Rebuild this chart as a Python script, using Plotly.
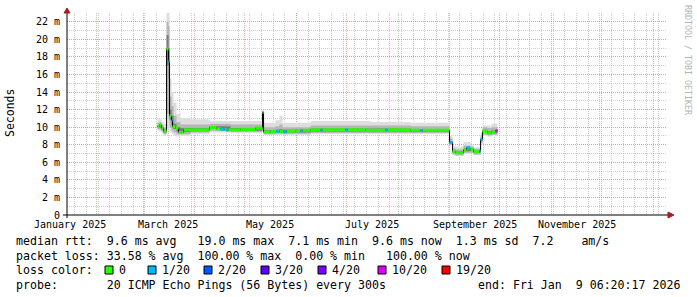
import plotly.graph_objects as go

# ---------------- data ----------------
med_dates = ['2025-03-09 14:00', '2025-03-10 19:00', '2025-03-12 00:00', '2025-03-13 05:00',
             '2025-03-15 00:00', '2025-03-16 05:00', '2025-03-16 19:00', '2025-03-18 00:00',
             '2025-03-18 14:00', '2025-03-20 10:00', '2025-03-22 05:00', '2025-03-25 05:00',
             '2025-04-09 19:00', '2025-04-14 00:00', '2025-04-16 10:00', '2025-04-18 19:00',
             '2025-04-20 00:00', '2025-04-21 05:00', '2025-04-28 10:00', '2025-05-07 10:00',
             '2025-05-11 14:00', '2025-05-12 05:00', '2025-05-16 10:00', '2025-05-20 00:00',
             '2025-05-21 19:00', '2025-05-24 05:00', '2025-05-26 00:00', '2025-05-31 10:00',
             '2025-06-03 10:00', '2025-06-04 14:00', '2025-06-09 10:00', '2025-06-15 10:00',
             '2025-06-16 14:00', '2025-06-30 10:00', '2025-07-01 14:00', '2025-07-12 10:00',
             '2025-07-24 10:00', '2025-07-25 14:00', '2025-08-08 10:00', '2025-08-14 10:00',
             '2025-08-15 14:00', '2025-08-31 19:00', '2025-09-02 14:00', '2025-09-04 10:00',
             '2025-09-09 05:00', '2025-09-11 00:00', '2025-09-12 19:00', '2025-09-13 10:00',
             '2025-09-15 05:00', '2025-09-18 19:00', '2025-09-19 10:00', '2025-09-20 14:00',
             '2025-09-23 14:00', '2025-09-26 00:00', '2025-09-28 10:00']
med_rtt = [10.1, 10.25, 9.9, 9.55,
           18.9, 17.5, 11.3, 10.8,
           10.05, 9.9, 9.4, 9.7,
           9.95, 9.8, 9.75, 9.7,
           9.65, 9.7, 9.75, 9.9,
           11.7, 9.45, 9.5, 9.55,
           9.5, 9.45, 9.55, 9.6,
           9.6, 9.65, 9.7, 9.65,
           9.7, 9.7, 9.7, 9.65,
           9.7, 9.7, 9.65, 9.6,
           9.65, 8.25, 7.25, 7.1,
           7.4, 7.65, 7.6, 7.45,
           7.2, 7.3, 8.6, 9.5,
           9.35, 9.45, 9.6]
med_loss = [0, 0, 0, 0,
            0, 1, 0, 1,
            0, 0, 0, 0,
            0, 0, 1, 0,
            1, 0, 0, 0,
            0, 0, 0, 1,
            0, 1, 0, 0,
            1, 0, 0, 1,
            0, 1, 0, 0,
            1, 0, 0, 1,
            0, 1, 0, 0,
            0, 1, 0, 0,
            0, 1, 1, 0,
            0, 0, 5]
data_end = '2025-09-29 14:00'

smoke_dates = ['2025-03-09 14:00', '2025-03-10 19:00', '2025-03-12 00:00', '2025-03-13 05:00',
               '2025-03-15 00:00', '2025-03-16 05:00', '2025-03-16 19:00', '2025-03-18 00:00',
               '2025-03-19 05:00', '2025-03-21 00:00', '2025-03-23 10:00', '2025-03-29 10:00',
               '2025-04-09 19:00', '2025-04-22 10:00', '2025-05-11 14:00', '2025-05-12 05:00',
               '2025-05-19 10:00', '2025-05-21 19:00', '2025-05-23 14:00', '2025-06-09 10:00',
               '2025-07-15 10:00', '2025-08-08 10:00', '2025-08-31 19:00', '2025-09-02 14:00',
               '2025-09-04 10:00', '2025-09-09 05:00', '2025-09-13 10:00', '2025-09-15 05:00',
               '2025-09-19 10:00', '2025-09-20 14:00', '2025-09-23 14:00', '2025-09-26 00:00']
smoke_lo_out = [9.6, 9.5, 9.3, 9.0, 9.8, 9.8, 9.4, 9.2, 9.0, 8.9, 9.0, 9.2, 9.4, 9.3, 9.6, 9.1,
                9.1, 9.1, 9.1, 9.2, 9.2, 9.2, 7.9, 6.8, 6.7, 7.0, 7.0, 6.8, 8.0, 9.0, 8.9, 9.0]
smoke_lo_mid = [9.8, 9.7, 9.5, 9.2, 11.5, 11.0, 9.9, 9.6, 9.4, 9.2, 9.2, 9.4, 9.6, 9.45, 10.0, 9.2,
                9.25, 9.25, 9.25, 9.35, 9.35, 9.35, 8.0, 6.9, 6.8, 7.1, 7.1, 6.9, 8.2, 9.15, 9.05, 9.15]
smoke_lo_in = [9.95, 9.95, 9.7, 9.35, 17.0, 15.5, 10.8, 10.2, 9.8, 9.5, 9.45, 9.55, 9.8, 9.6, 10.5, 9.35,
               9.4, 9.4, 9.4, 9.5, 9.5, 9.45, 8.1, 7.05, 6.95, 7.25, 7.3, 7.05, 8.4, 9.35, 9.2, 9.3]
smoke_hi_in = [10.2, 10.35, 10.0, 9.7, 20.5, 19.0, 12.0, 11.3, 10.4, 10.0, 9.9, 9.9, 10.1, 9.9, 11.6, 9.65,
               9.7, 9.75, 9.7, 9.85, 9.85, 9.8, 8.4, 7.35, 7.25, 7.6, 7.6, 7.35, 8.8, 9.7, 9.55, 9.65]
smoke_hi_mid = [10.5, 10.6, 10.3, 10.0, 22.0, 21.5, 13.5, 12.4, 11.3, 10.6, 10.3, 10.3, 10.4, 10.3, 11.8, 10.0,
                10.1, 10.3, 10.0, 10.2, 10.2, 10.1, 8.7, 7.6, 7.5, 7.9, 7.8, 7.55, 9.1, 10.0, 9.9, 10.0]
smoke_hi_out = [10.9, 10.9, 10.6, 10.4, 23.0, 23.0, 15.5, 14.0, 12.8, 11.5, 11.0, 10.9, 10.7, 10.7, 12.0, 10.5,
                10.8, 11.3, 10.5, 10.7, 10.6, 10.5, 9.0, 7.9, 7.8, 8.3, 8.0, 7.7, 9.4, 10.2, 10.2, 10.4]

loss_labels = ['0', '1/20', '2/20', '3/20', '4/20', '10/20', '19/20']
loss_colors = ['#26ff00', '#00b8ff', '#0059ff', '#5e00ff', '#7e00ff', '#dd00ff', '#ff0000']

x_start = '2025-01-14 06:20:17'
x_end = '2026-01-09 06:20:17'
month_ticks = ['2025-02-01', '2025-03-01', '2025-04-01', '2025-05-01', '2025-06-01', '2025-07-01',
               '2025-08-01', '2025-09-01', '2025-10-01', '2025-11-01', '2025-12-01', '2026-01-01']
month_label_pos = ['2025-01-16', '2025-03-16', '2025-05-16', '2025-07-16', '2025-09-16', '2025-11-16']
month_labels = ['January 2025', 'March 2025', 'May 2025', 'July 2025', 'September 2025', 'November 2025']
y_ticks = [0, 2, 4, 6, 8, 10, 12, 14, 16, 18, 20, 22]
y_labels = ['0', '2 m', '4 m', '6 m', '8 m', '10 m', '12 m', '14 m', '16 m', '18 m', '20 m', '22 m']

legend_rtt = 'median rtt:  9.6 ms avg   19.0 ms max  7.1 ms min  9.6 ms now  1.3 ms sd  7.2    am/s'
legend_loss = 'packet loss: 33.58 % avg  100.00 % max  0.00 % min   100.00 % now'
legend_color_title = 'loss color:'
legend_probe = 'probe:       20 ICMP Echo Pings (56 Bytes) every 300s'
legend_end = 'end: Fri Jan  9 06:20:17 2026'

# ---------------- layout helpers (pixel -> paper) ----------------
L, R, T, B = 67, 667, 13, 215
W, H = R - L, B - T


def px(x):
    return (x - L) / W


def py(y):
    return (B - y) / H


MONO = 'DejaVu Sans Mono'


def nb(s):
    return s.replace(' ', '\u00a0')


fig = go.Figure()

# smoke bands
bands = [(smoke_lo_out, smoke_hi_out, '#dedede'),
         (smoke_lo_mid, smoke_hi_mid, '#b6b6b6'),
         (smoke_lo_in, smoke_hi_in, '#7c7c7c')]
sx = smoke_dates + [data_end]
for lo, hi, col in bands:
    fig.add_trace(go.Scatter(x=sx, y=lo + [lo[-1]], mode='lines', line=dict(width=0, color='rgba(0,0,0,0)', shape='hv'),
                             hoverinfo='skip', showlegend=False))
    fig.add_trace(go.Scatter(x=sx, y=hi + [hi[-1]], mode='lines', line=dict(width=0, color='rgba(0,0,0,0)', shape='hv'),
                             fill='tonexty', fillcolor=col, hoverinfo='skip', showlegend=False))

# median black connector line
mx = med_dates + [data_end]
fig.add_trace(go.Scatter(x=mx, y=med_rtt + [med_rtt[-1]], mode='lines',
                         line=dict(width=1, color='#000000', shape='hv'), hoverinfo='skip', showlegend=False))

# coloured median segments by loss
for k, col in enumerate(loss_colors):
    xs, ys = [], []
    for i, v in enumerate(med_rtt):
        if med_loss[i] == k:
            xs += [mx[i], mx[i + 1], None]
            ys += [v, v, None]
    if xs:
        fig.add_trace(go.Scatter(x=xs, y=ys, mode='lines', line=dict(width=3, color=col),
                                 hoverinfo='skip', showlegend=False))

RED_GRID = 'rgba(230,120,120,0.6)'
GREY_GRID = 'rgba(175,175,175,0.6)'

fig.update_xaxes(type='date', range=[x_start, x_end], tickmode='array', tickvals=month_ticks,
                 showticklabels=False, ticks='', showgrid=True, gridcolor=RED_GRID, griddash='1px,1px',
                 gridwidth=1, zeroline=False, showline=False,
                 minor=dict(tick0='2025-01-19', dtick=7 * 86400000, showgrid=True, gridcolor=GREY_GRID,
                            griddash='1px,1px', gridwidth=1, ticks=''))
fig.update_yaxes(range=[0, 23], tickmode='array', tickvals=y_ticks, ticktext=y_labels,
                 tickfont=dict(family=MONO, size=10, color='#000000'), ticks='', ticklabelstandoff=6,
                 showgrid=True, gridcolor=RED_GRID, griddash='1px,1px', gridwidth=1, zeroline=False,
                 showline=False,
                 minor=dict(tick0=0, dtick=1, showgrid=True, gridcolor=GREY_GRID, griddash='1px,1px',
                            gridwidth=1, ticks=''))

shapes = []
# axis lines
shapes.append(dict(type='line', xref='paper', yref='paper', x0=px(63), x1=px(670), y0=0, y1=0,
                   line=dict(color='#000000', width=1)))
shapes.append(dict(type='line', xref='paper', yref='paper', x0=0, x1=0, y0=py(218), y1=py(11),
                   line=dict(color='#000000', width=1)))
# arrows
shapes.append(dict(type='path', xref='paper', yref='paper',
                   path=f'M {px(64)},{py(13)} L {px(70)},{py(13)} L {px(67)},{py(8)} Z',
                   fillcolor='#a02020', line=dict(color='#a02020', width=1)))
shapes.append(dict(type='path', xref='paper', yref='paper',
                   path=f'M {px(668)},{py(212)} L {px(668)},{py(218)} L {px(674)},{py(215)} Z',
                   fillcolor='#a02020', line=dict(color='#a02020', width=1)))

annotations = []
for pos, lab in zip(month_label_pos, month_labels):
    annotations.append(dict(x=pos, xref='x', y=py(224.5), yref='paper', text=nb(lab), showarrow=False,
                            xanchor='center', yanchor='middle', font=dict(family=MONO, size=10, color='#000000')))

annotations.append(dict(x=px(10), y=py(113), xref='paper', yref='paper', text='Seconds', textangle=-90,
                        showarrow=False, xanchor='center', yanchor='middle',
                        font=dict(family=MONO, size=11.5, color='#000000')))
annotations.append(dict(x=px(688), y=py(60), xref='paper', yref='paper', text=nb('RRDTOOL / TOBI OETIKER'),
                        textangle=90, showarrow=False, xanchor='center', yanchor='middle',
                        font=dict(family=MONO, size=8.3, color='#b4b4b4')))

LEG_FONT = dict(family=MONO, size=11.6, color='#000000')
rows = [241, 255.5, 270, 284.5]
for text, yy in [(legend_rtt, rows[0]), (legend_loss, rows[1]), (legend_color_title, rows[2]),
                 (legend_probe, rows[3])]:
    annotations.append(dict(x=px(15), y=py(yy), xref='paper', yref='paper', text=nb(text), showarrow=False,
                            xanchor='left', yanchor='middle', font=LEG_FONT, borderpad=0))
annotations.append(dict(x=px(477), y=py(rows[3]), xref='paper', yref='paper', text=nb(legend_end),
                        showarrow=False, xanchor='left', yanchor='middle', font=LEG_FONT, borderpad=0))

box_left = [105, 148, 204, 261, 318, 378, 442]
for bl, lab, col in zip(box_left, loss_labels, loss_colors):
    shapes.append(dict(type='rect', xref='paper', yref='paper', x0=px(bl), x1=px(bl + 8),
                       y0=py(rows[2] + 4), y1=py(rows[2] - 4), fillcolor=col,
                       line=dict(color='#000000', width=1)))
    annotations.append(dict(x=px(bl + 13), y=py(rows[2]), xref='paper', yref='paper', text=nb(lab),
                            showarrow=False, xanchor='left', yanchor='middle', font=LEG_FONT, borderpad=0))

fig.update_layout(width=697, height=297, autosize=False,
                  margin=dict(l=L, r=697 - R, t=T, b=297 - B, pad=0),
                  paper_bgcolor='#ffffff', plot_bgcolor='#ffffff',
                  shapes=shapes, annotations=annotations, showlegend=False)

fig.write_html('out.html')
